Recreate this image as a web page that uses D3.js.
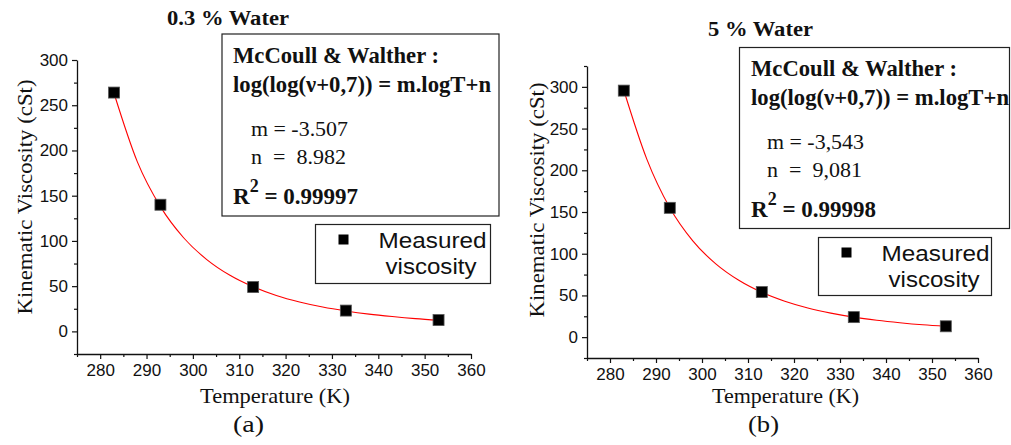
<!DOCTYPE html>
<html>
<head>
<meta charset="utf-8">
<script src="https://cdn.jsdelivr.net/npm/d3@7"></script>
<style>
  body { margin: 0; background: #fff; }
  .tick-lbl { font-family: "Liberation Sans", Arial, sans-serif; font-size: 17px; fill: #111; }
  .serif { font-family: "Liberation Serif", "Times New Roman", serif; fill: #111; }
  .sans { font-family: "Liberation Sans", Arial, sans-serif; fill: #111; }
</style>
</head>
<body>
<svg id="chart" width="1011" height="445"></svg>
<script>
// measured points
var temps = [283, 293, 313, 333, 353];
var viscA = [264, 140, 49, 23, 12.5];
var viscB = [295.5, 155, 54, 24, 13];

// fitted curve
var fitTemps = [283, 288, 293, 298, 303, 308, 313, 318, 323, 328, 333, 338, 343, 348, 353];
var fitA = [263, 187.7, 137.9, 103.5, 79.4, 62.0, 49.3, 39.7, 32.5, 26.9, 22.6, 19.1, 16.4, 14.1, 12.3];
var fitB = [296, 213.4, 155.1, 115.4, 87.8, 68.1, 53.7, 43.0, 34.9, 28.8, 24.0, 20.3, 17.3, 14.8, 12.9];

var xMajor = [280, 290, 300, 310, 320, 330, 340, 350, 360];
var xMinor = [275, 285, 295, 305, 315, 325, 335, 345, 355];
var yMajor = [0, 50, 100, 150, 200, 250, 300];
var yMinorA = [-25, 25, 75, 125, 175, 225, 275];
var yMinorB = [-25, 25, 75, 125, 175, 225, 275, 325];

var svg = d3.select("#chart");
svg.append("rect").attr("width", 1011).attr("height", 445).attr("fill", "#fff");

var panels = [
    {
	title: "0.3 % Water", tx: 167, ty: 25, tw: 122,
	xr: [77, 471], yr: [354, 60], ydom: [-25, 300],
	vals: viscA, fit: fitA, yMinor: yMinorA,
	box: {x: 222, y: 34, w: 277, h: 182},
	dy: 0, bx: 233, mx: 251,
	m: "m = -3.507", n: "n  =  8.982", r2: " = 0.99997",
	leg: {x: 315.5, y: 224.5, w: 175, h: 59},
	ylab: {x: 32, y: 197},
	xlab: {x: 200, w: 150},
	sub: "(a)", sx: 233
    },
    {
	title: "5 % Water", tx: 708, ty: 36, tw: 105,
	xr: [587, 978], yr: [358, 66], ydom: [-25, 325],
	vals: viscB, fit: fitB, yMinor: yMinorB,
	box: {x: 739.5, y: 47.5, w: 270, h: 181},
	dy: 13, bx: 751, mx: 767,
	m: "m = -3,543", n: "n  =  9,081", r2: " = 0.99998",
	leg: {x: 818.5, y: 237.5, w: 173, h: 58},
	ylab: {x: 544, y: 200},
	xlab: {x: 712, w: 147},
	sub: "(b)", sx: 748
    }
];

panels.forEach(drawPanel);

function addText(g, cls, x, y, size, str, len) {
    var t = g.append("text").attr("class", cls)
	.attr("x", x).attr("y", y)
	.attr("font-size", size)
	.style("white-space", "pre")
	.text(str);
    if (len) t.attr("textLength", len).attr("lengthAdjust", "spacingAndGlyphs");
    return t;
}

function drawPanel(p) {
    var x = d3.scaleLinear().domain([275, 360]).range(p.xr);
    var y = d3.scaleLinear().domain(p.ydom).range(p.yr);
    var g = svg.append("g");

    // x axis
    g.append("g").attr("transform", "translate(0," + p.yr[0] + ")")
	.call(d3.axisBottom(x).tickValues(xMajor).tickSize(5).tickSizeOuter(0).tickPadding(5));
    g.append("g").attr("transform", "translate(0," + p.yr[0] + ")")
	.call(d3.axisBottom(x).tickValues(xMinor).tickSize(3).tickSizeOuter(0).tickFormat(""))
	.select(".domain").remove();

    // y axis
    g.append("g").attr("transform", "translate(" + p.xr[0] + ",0)")
	.call(d3.axisLeft(y).tickValues(yMajor).tickSize(5).tickSizeOuter(0).tickPadding(4));
    g.append("g").attr("transform", "translate(" + p.xr[0] + ",0)")
	.call(d3.axisLeft(y).tickValues(p.yMinor).tickSize(3).tickSizeOuter(0).tickFormat(""))
	.select(".domain").remove();

    g.selectAll(".domain").attr("stroke", "#111").attr("stroke-width", 1.3);
    g.selectAll(".tick line").attr("stroke", "#111").attr("stroke-width", 1.2);
    g.selectAll(".tick text").attr("class", "tick-lbl").attr("font-size", null).attr("font-family", null);

    // fit curve
    var line = d3.line()
	.curve(d3.curveMonotoneX)
	.x((d, i) => x(fitTemps[i]))
	.y(d => y(d));
    g.append("path")
	.datum(p.fit)
	.attr("d", line)
	.attr("fill", "none")
	.attr("stroke", "#ff0000")
	.attr("stroke-width", 1.1);

    // measured points
    var s = 11;
    g.selectAll("rect.pt")
	.data(p.vals)
	.enter()
	.append("rect")
	.attr("class", "pt")
	.attr("x", (d, i) => x(temps[i]) - s / 2)
	.attr("y", d => y(d) - s / 2)
	.attr("width", s)
	.attr("height", s)
	.attr("fill", "#000")
	.attr("stroke", "#555")
	.attr("stroke-width", 0.8);

    // title
    addText(g, "serif", p.tx, p.ty, 20, p.title, p.tw).attr("font-weight", "bold");

    // equation box
    var b = p.box, d = p.dy;
    g.append("rect").attr("x", b.x).attr("y", b.y).attr("width", b.w).attr("height", b.h)
	.attr("fill", "#fff").attr("stroke", "#222").attr("stroke-width", 1.2);
    addText(g, "serif", p.bx, 63 + d, 22.5, "McCoull & Walther :", 206).attr("font-weight", "bold");
    addText(g, "serif", p.bx, 92 + d, 22.5, "log(log(\u03bd+0,7)) = m.logT+n", 258).attr("font-weight", "bold");
    addText(g, "serif", p.mx, 136 + d, 22, p.m, 97);
    addText(g, "serif", p.mx, 164 + d, 22, p.n, 95);
    var r = g.append("text").attr("class", "serif").attr("x", p.bx).attr("y", 204 + d)
	.attr("font-size", 23).attr("font-weight", "bold").style("white-space", "pre");
    r.append("tspan").text("R");
    r.append("tspan").attr("dy", -12).attr("font-size", 18).text("2");
    r.append("tspan").attr("dy", 12).text(p.r2);

    // legend
    var l = p.leg;
    g.append("rect").attr("x", l.x).attr("y", l.y).attr("width", l.w).attr("height", l.h)
	.attr("fill", "#fff").attr("stroke", "#222").attr("stroke-width", 1.2);
    g.append("rect").attr("x", l.x + 23).attr("y", l.y + 10).attr("width", 10).attr("height", 10)
	.attr("fill", "#000");
    addText(g, "sans", l.x + 63, l.y + 23, 22, "Measured", 108);
    addText(g, "sans", l.x + 70, l.y + 49, 22, "viscosity", 91);

    // axis labels
    g.append("text").attr("class", "serif")
	.attr("transform", "translate(" + p.ylab.x + "," + p.ylab.y + ") rotate(-90)")
	.attr("text-anchor", "middle").attr("font-size", 22)
	.attr("textLength", 235).attr("lengthAdjust", "spacingAndGlyphs")
	.text("Kinematic Viscosity (cSt)");
    addText(g, "serif", p.xlab.x, 403, 22, "Temperature (K)", p.xlab.w);
    addText(g, "serif", p.sx, 432, 24, p.sub, 31);
}
</script>
</body>
</html>
